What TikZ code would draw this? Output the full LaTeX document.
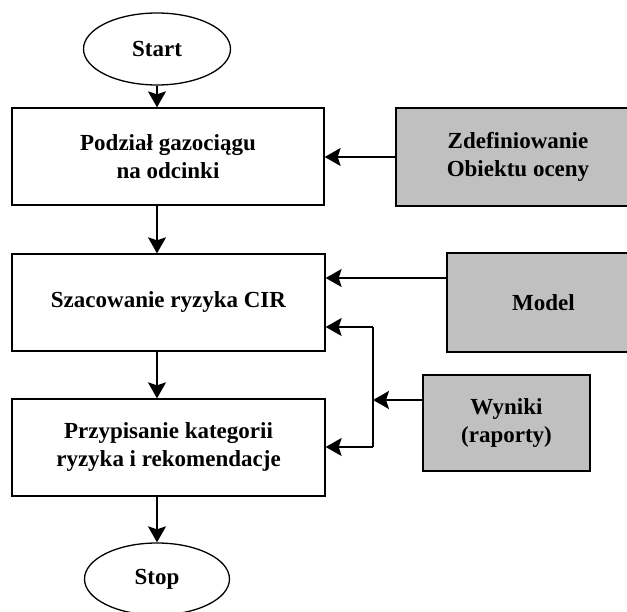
\documentclass[tikz,border=0pt]{standalone}
\usepackage{fontspec}
\setmainfont{Liberation Serif}
\usetikzlibrary{arrows.meta,shapes.geometric}
\definecolor{boxgray}{RGB}{192,192,192}
\tikzset{
  every node/.style={font=\fontsize{23}{28}\selectfont\bfseries, align=center, inner sep=0pt},
  procbox/.style={draw, line width=1.3pt, rectangle, fill=white},
  graybox/.style={draw, line width=1.3pt, rectangle, fill=boxgray},
  term/.style={draw, line width=1.3pt, ellipse, fill=white},
  arr/.style={line width=1.6pt, -{Stealth[length=16pt, width=18pt, inset=3pt]}},
  ln/.style={line width=1.6pt}
}
\begin{document}
\begin{tikzpicture}[x=1pt, y=-1pt]
\useasboundingbox (0,0) rectangle (627,612);
\clip (0,0) rectangle (627,612);
\node[term, minimum width=147pt, minimum height=72pt] (start) at (157,49) {Start};
\node[procbox, minimum width=312pt, minimum height=97pt] (b1) at (168,156.5) {Podział gazociągu\\na odcinki};
\node[procbox, minimum width=313pt, minimum height=97pt] (b2) at (168.5,302.5) {Szacowanie ryzyka CIR};
\node[procbox, minimum width=313pt, minimum height=97pt] (b3) at (168.5,447.5) {Przypisanie kategorii\\ryzyka i rekomendacje};
\node[term, minimum width=145pt, minimum height=72pt] (stop) at (157,579) {Stop};
\node[graybox, minimum width=244pt, minimum height=98pt] (g1) at (518,157) {Zdefiniowanie\\Obiektu oceny};
\node[graybox, minimum width=193pt, minimum height=99pt] (g2) at (543.5,302.5) {Model};
\node[graybox, minimum width=167pt, minimum height=96pt] (g3) at (506.5,423) {Wyniki\\(raporty)};
\coordinate (vtop) at (373,327);
\coordinate (vbot) at (373,447);
\coordinate (vmid) at (373,400);
\draw[arr] (start.south) -- (start.south |- b1.north);
\draw[arr] (start.south |- b1.south) -- (start.south |- b2.north);
\draw[arr] (start.south |- b2.south) -- (start.south |- b3.north);
\draw[arr] (start.south |- b3.south) -- (stop.north);
\draw[arr] (g1.west) -- (b1.east |- g1.west);
\draw[arr] (g2.west |- 0,278) -- (b2.east |- 0,278);
\draw[ln] (vtop) -- (vbot);
\draw[arr] (vtop) -- (b2.east |- vtop);
\draw[arr] (vbot) -- (b3.east |- vbot);
\draw[arr] (g3.west |- vmid) -- (vmid);
\end{tikzpicture}
\end{document}
